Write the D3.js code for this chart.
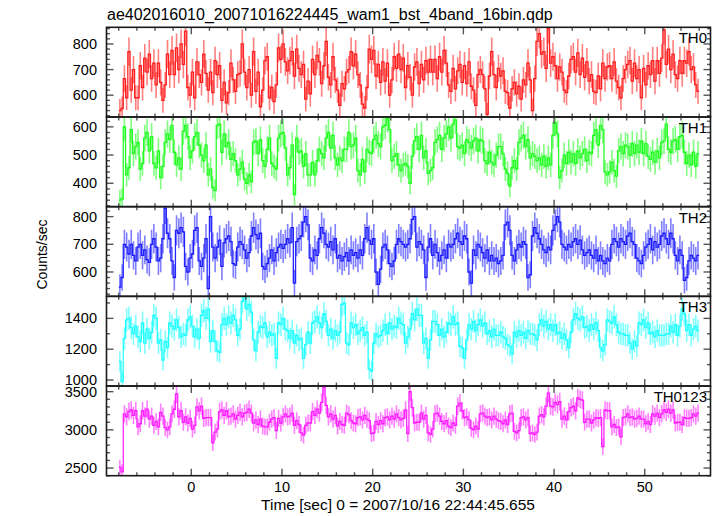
<!DOCTYPE html>
<html><head><meta charset="utf-8">
<script src="https://cdn.jsdelivr.net/npm/d3@7"></script>
<style>body{margin:0;background:#fff}svg{display:block}</style>
</head><body><svg id="c" width="717" height="516"></svg>
<script>
const titleText = "ae402016010_20071016224445_wam1_bst_4band_16bin.qdp";
const xLabelText = "Time [sec] 0 = 2007/10/16 22:44:45.655";
const yLabelText = "Counts/sec";
const panelNames = ["TH0","TH1","TH2","TH3","TH0123"];
const panelColors = ["#ff0000","#00ff00","#0000ff","#00ffff","#ff00ff"];
const yDomains = [[515,865],[317,635],[512,836],[961,1543],[2400,3574]];
const yMajorTicks = [[600,700,800],[400,500,600],[600,700,800],[1000,1200,1400],[2500,3000,3500]];
const yMinorStep = [20,20,20,100,100];
const xMajorTicks = [0,10,20,30,40,50];
const xMinorStep = 2;
const xDomain = [-9.35, 57.25];
const binStart = -8.0;   // time of first bin edge (s)
const binSize = 0.25;    // bin width (s)

const th0 = [540,548,665,590,770,620,700,590, 590,715,630,745,690,760,665,725,
 640,725,650,580,640,760,680,775, 680,785,700,800,720,850,630,600,
 690,590,730,680,650,760,685,620, 690,610,735,680,715,580,650,570,
 610,725,660,615,680,685,800,690, 630,700,600,770,615,690,555,620,
 735,750,590,630,575,640,785,740, 800,730,695,735,770,675,780,705,
 680,720,585,655,605,740,680,755, 730,645,715,810,670,640,750,660,
 620,560,645,625,690,700,770,715, 760,680,640,565,550,630,780,740,
 775,675,720,650,730,655,725,600, 660,750,705,760,700,745,630,715,
 670,600,710,730,645,720,660,735, 690,740,690,740,665,750,690,775,
 725,640,615,705,625,695,720,650, 715,645,730,635,620,560,680,700,
 680,625,525,675,770,680,630,705, 675,695,615,610,550,625,650,605,
 635,585,660,640,725,660,540,665, 810,840,760,770,705,860,725,750,
 715,665,710,690,620,610,675,740, 750,690,765,680,745,670,730,655,
 680,615,610,675,625,725,665,710, 715,665,730,655,630,590,665,700,
 720,735,655,725,665,700,590,705, 640,715,680,735,655,735,685,745,
 855,720,780,700,760,680,665,735, 685,735,725,770,700,710,640,615];

const th1 = [340,345,600,430,455,590,505,530, 545,450,470,560,580,515,565,470,
 455,515,420,460,545,575,555,605, 510,465,490,450,585,605,565,490,
 515,565,580,535,500,480,535,430, 450,385,375,605,610,510,575,530,
 545,485,505,480,430,450,475,415, 400,430,405,545,550,505,555,480,
 460,520,560,470,460,450,560,575, 580,525,430,455,535,360,560,510,
 515,460,505,430,430,475,430,480, 520,505,490,560,580,525,570,490,
 465,490,480,520,520,580,530,535, 560,445,430,485,440,520,510,505,
 555,570,540,530,600,605,630,590, 480,495,505,465,445,465,470,460,
 400,495,550,565,520,570,490,515, 435,445,455,545,555,570,520,560,
 575,600,560,610,625,530,525,535, 505,555,545,525,550,560,515,555,
 550,480,470,510,475,465,500,530, 530,505,450,435,390,455,480,450,
 545,560,570,530,555,490,505,495, 480,490,465,495,460,490,465,570,
 615,575,420,445,500,470,510,475, 505,470,515,490,505,520,480,510,
 505,570,590,535,605,590,440,430, 440,475,445,425,515,530,505,535,
 530,500,540,505,535,510,550,505, 540,495,485,510,475,515,490,545,
 550,610,520,510,550,555,520,565, 570,510,470,500,465,510,460,505];

const th2 = [545,580,700,690,665,700,660,640, 690,700,660,680,645,635,700,720,
 690,640,650,720,830,740,720,640, 580,750,740,760,745,620,600,650,
 665,750,760,640,620,650,720,540, 800,690,650,690,715,620,705,720,
 730,710,630,625,690,710,700,680, 650,670,730,760,735,720,740,620,
 610,630,650,680,640,670,690,700, 685,700,720,705,760,560,710,720,
 730,780,800,770,650,640,680,660, 720,760,740,700,690,710,680,720,
 650,660,640,655,670,640,680,660, 670,650,680,660,720,760,715,700,
 720,600,555,610,690,700,680,630, 620,640,700,720,710,700,690,700,
 720,790,800,690,710,700,680,580, 690,720,660,700,670,640,660,680,
 650,700,690,700,720,740,710,700, 730,720,600,560,680,660,700,690,
 670,650,680,640,660,640,650,630, 640,660,770,780,750,660,640,680,
 700,690,710,700,580,590,730,760, 740,720,700,680,670,690,680,750,
 770,800,780,700,690,680,700,690, 710,720,700,715,680,660,670,680,
 660,650,680,640,660,640,630,650, 640,700,720,710,690,720,710,700,
 730,740,710,700,650,640,630,660, 690,700,720,680,710,690,700,730,
 740,720,700,740,720,660,640,680, 660,570,580,640,660,650,640,660];

const th3 = [1120,990,1270,1390,1400,1340,1300,1350, 1280,1250,1370,1240,1330,1270,1310,1420,
 1400,1240,1260,1130,1250,1210,1370,1350, 1330,1390,1340,1280,1300,1290,1390,1410,
 1350,1280,1330,1270,1420,1450,1400,1460, 1250,1320,1250,1190,1180,1360,1400,1360,
 1410,1370,1420,1390,1290,1330,1510,1540, 1460,1490,1440,1260,1190,1310,1350,1340,
 1370,1280,1310,1290,1300,1140,1370,1360, 1400,1330,1320,1270,1320,1240,1290,1260,
 1270,1140,1230,1310,1240,1370,1380,1410, 1370,1340,1430,1380,1290,1330,1270,1320,
 1290,1310,1490,1500,1240,1230,1370,1340, 1360,1300,1320,1340,1290,1310,1070,1060,
 1240,1300,1280,1290,1320,1360,1300,1370, 1330,1350,1340,1400,1370,1360,1240,1280,
 1330,1430,1390,1460,1420,1420,1240,1270, 1140,1260,1380,1380,1360,1290,1330,1280,
 1310,1370,1360,1410,1360,1370,1220,1210, 1140,1260,1360,1330,1380,1320,1360,1390,
 1350,1370,1300,1320,1280,1330,1290,1290, 1310,1280,1270,1230,1220,1170,1310,1280,
 1320,1290,1310,1270,1320,1300,1300,1290, 1260,1360,1390,1350,1380,1330,1360,1320,
 1360,1300,1310,1270,1300,1260,1210,1310, 1390,1430,1400,1390,1410,1340,1350,1320,
 1360,1330,1370,1320,1210,1190,1230,1390, 1380,1370,1410,1360,1310,1300,1300,1290,
 1290,1240,1200,1250,1220,1370,1360,1390, 1340,1370,1300,1310,1280,1320,1290,1290,
 1290,1300,1300,1350,1310,1360,1290,1350, 1460,1430,1320,1360,1290,1330,1350,1320];

const th0123 = [2510,2450,3210,3170,3240,3260,3190,3250, 3040,3080,3250,3180,3270,3140,3180,3060,
 3110,3040,3230,3180,3030,3000,3040,3210, 3270,3470,3170,3250,3100,3170,3090,3150,
 3010,3060,3300,3250,3310,3150,3160,3160, 3160,2830,2970,3010,3240,3260,3190,3250,
 3170,3180,3210,3140,3190,3230,3170,3220, 3230,3270,3220,3090,3130,3070,3140,3050,
 3040,3040,3100,3140,3160,2990,3150,3090, 3170,3210,3170,3180,3220,3060,3120,3070,
 2960,2930,3060,3090,3090,3240,3190,3270, 3220,3360,3560,3320,3170,3210,3140,3190,
 3050,3110,3070,3060,3220,3200,3120,3090, 3080,3160,3170,3130,3190,3140,3120,2950,
 2960,3110,3070,3120,3080,3160,3170,3130, 3180,3140,3210,3160,3130,3150,3260,2950,
 3500,3290,3090,3100,3100,3220,3140,3190, 2960,2940,3010,3210,3220,3180,3110,3080,
 3120,3050,3030,3090,3060,3310,3350,3250, 3160,3170,3130,3020,3000,3050,3010,3210,
 3220,3180,3160,3170,3130,3180,3140,3120, 3110,3080,3130,3070,3210,3220,2980,2960,
 2990,3160,3170,3130,3160,2950,2960,2940, 2970,3180,3200,3170,3310,3480,3310,3300,
 3360,3330,3370,3140,3180,3130,3240,3290, 3310,3250,3420,3400,3390,3100,3140,3140,
 3090,3130,3160,3150,3160,2780,3260,3250, 3250,3040,3070,3030,3040,2910,3160,3170,
 3210,3160,3170,3140,3150,3180,3140,3140, 3080,3110,3070,3210,3180,3220,3160,3210,
 3260,3230,3270,3220,3260,3090,3100,3100, 3070,3160,3150,3150,3160,3210,3180,3220];

const series = [th0, th1, th2, th3, th0123];

const W = 717, H = 516;
const plotL = 106.5, plotR = 710.5, plotT = 27.3, plotB = 475.7;
const panelH = (plotB - plotT) / series.length;
const font = "'Liberation Sans', Arial, Helvetica, sans-serif";
const frameColor = "#1a1a1a", tickColor = "#555";

const svg = d3.select("#c");
svg.append("rect").attr("width", W).attr("height", H).attr("fill", "#fff");

const x = d3.scaleLinear().domain(xDomain).range([plotL, plotR]);
const xMinor = d3.range(-8, 57, xMinorStep).filter(v => !xMajorTicks.includes(v));

svg.append("defs").selectAll("clipPath").data(series).join("clipPath")
  .attr("id", (d, i) => "clip" + i)
  .append("rect")
  .attr("x", plotL).attr("y", (d, i) => plotT + i * panelH)
  .attr("width", plotR - plotL).attr("height", panelH);

series.forEach((vals, p) => {
  const top = plotT + p * panelH, bot = top + panelH;
  const y = d3.scaleLinear().domain(yDomains[p]).range([bot, top]);
  const g = svg.append("g");
  const color = panelColors[p];
  const pts = vals.map((v, i) => ({ t: binStart + i * binSize, v: v,
    e: Math.sqrt(v * binSize) / binSize }));

  const dg = g.append("g").attr("clip-path", `url(#clip${p})`);
  // error bars (Poisson, per bin)
  dg.selectAll("line.err").data(pts).join("line")
    .attr("x1", d => x(d.t + binSize / 2)).attr("x2", d => x(d.t + binSize / 2))
    .attr("y1", d => y(d.v - d.e)).attr("y2", d => y(d.v + d.e))
    .attr("stroke", color).attr("stroke-width", 1.6).attr("stroke-opacity", 0.5);
  // step histogram line
  const stepPts = pts.map(d => [d.t, d.v]);
  stepPts.push([binStart + vals.length * binSize, vals[vals.length - 1]]);
  dg.append("path").datum(stepPts)
    .attr("d", d3.line().x(d => x(d[0])).y(d => y(d[1])).curve(d3.curveStepAfter))
    .attr("fill", "none").attr("stroke", color).attr("stroke-width", 1.3)
    .attr("stroke-opacity", 0.85);

  // y ticks (left & right, inward)
  const yMinor = d3.range(Math.ceil(yDomains[p][0] / yMinorStep[p]) * yMinorStep[p],
    yDomains[p][1], yMinorStep[p]).filter(v => !yMajorTicks[p].includes(v));
  const tg = g.append("g").attr("stroke", tickColor).attr("stroke-width", 1.4);
  yMajorTicks[p].forEach(v => {
    tg.append("line").attr("x1", plotL).attr("x2", plotL + 7).attr("y1", y(v)).attr("y2", y(v));
    tg.append("line").attr("x1", plotR).attr("x2", plotR - 7).attr("y1", y(v)).attr("y2", y(v));
  });
  yMinor.forEach(v => {
    tg.append("line").attr("x1", plotL).attr("x2", plotL + 3.5).attr("y1", y(v)).attr("y2", y(v));
    tg.append("line").attr("x1", plotR).attr("x2", plotR - 3.5).attr("y1", y(v)).attr("y2", y(v));
  });
  // x ticks (top & bottom of each panel, inward)
  xMajorTicks.forEach(v => {
    tg.append("line").attr("x1", x(v)).attr("x2", x(v)).attr("y1", bot).attr("y2", bot - 7);
    tg.append("line").attr("x1", x(v)).attr("x2", x(v)).attr("y1", top).attr("y2", top + 7);
  });
  xMinor.forEach(v => {
    tg.append("line").attr("x1", x(v)).attr("x2", x(v)).attr("y1", bot).attr("y2", bot - 3.5);
    tg.append("line").attr("x1", x(v)).attr("x2", x(v)).attr("y1", top).attr("y2", top + 3.5);
  });

  // y tick labels
  g.selectAll("text.yl").data(yMajorTicks[p]).join("text")
    .attr("x", 97).attr("y", d => y(d) + 5)
    .attr("text-anchor", "end").attr("font-family", font).attr("font-size", 14.5)
    .attr("fill", "#000").text(d => d);

  // panel name
  g.append("text").attr("x", 707).attr("y", top + 16)
    .attr("text-anchor", "end").attr("font-family", font).attr("font-size", 15)
    .attr("fill", "#000").text(panelNames[p]);

  // frame
  g.append("rect").attr("x", plotL).attr("y", top).attr("width", plotR - plotL)
    .attr("height", panelH).attr("fill", "none").attr("stroke", frameColor)
    .attr("stroke-width", 1.6);
});

// x tick labels
svg.selectAll("text.xl").data(xMajorTicks).join("text")
  .attr("x", d => x(d)).attr("y", 492)
  .attr("text-anchor", "middle").attr("font-family", font).attr("font-size", 14.5)
  .attr("fill", "#000").text(d => d);

svg.append("text").attr("x", 107).attr("y", 20).attr("font-family", font)
  .attr("font-size", 16).attr("fill", "#000").text(titleText);

svg.append("text").attr("x", 398).attr("y", 510).attr("text-anchor", "middle")
  .attr("font-family", font).attr("font-size", 15.5).attr("fill", "#000").text(xLabelText);

svg.append("text").attr("transform", "translate(47,254.5) rotate(-90)")
  .attr("text-anchor", "middle").attr("font-family", font).attr("font-size", 14)
  .attr("fill", "#000").text(yLabelText);
</script></body></html>
